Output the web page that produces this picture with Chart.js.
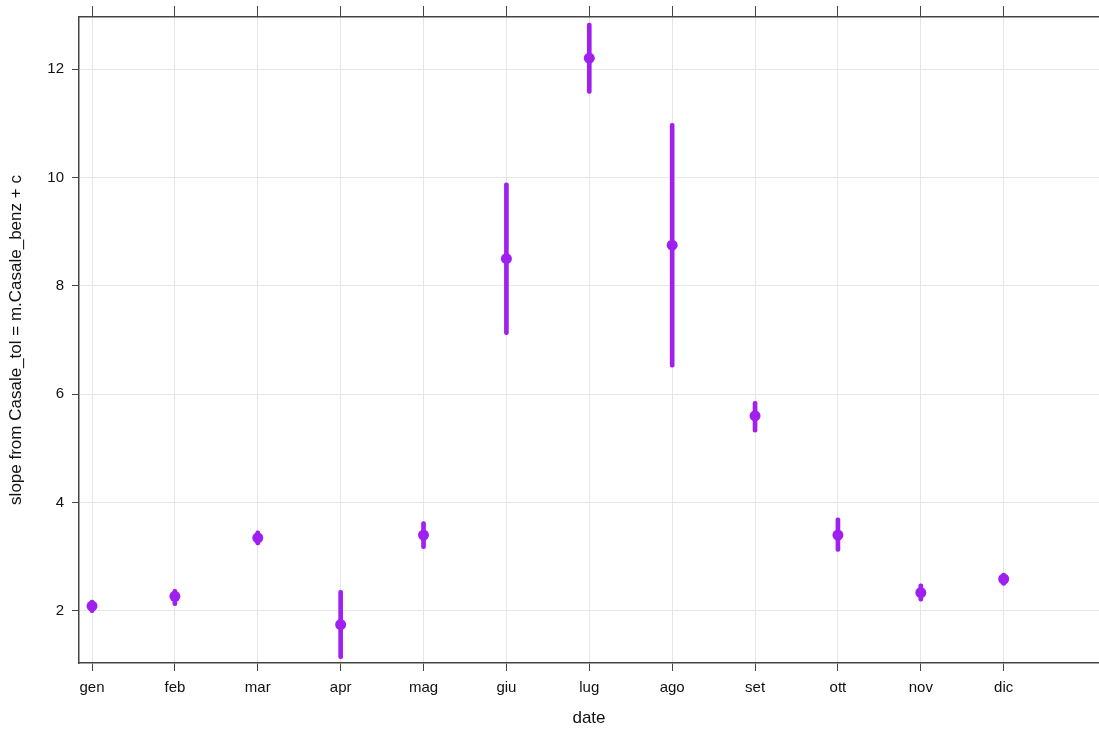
<!DOCTYPE html>
<html>
<head>
<meta charset="utf-8">
<script src="https://cdn.jsdelivr.net/npm/chart.js@4/dist/chart.umd.min.js"></script>
<style>
  html, body { margin: 0; padding: 0; background: #fff; }
  #wrap { width: 1099px; height: 729px; }
</style>
</head>
<body>
<div id="wrap"><canvas id="slopeChart"></canvas></div>
<script>
const months = ['gen', 'feb', 'mar', 'apr', 'mag', 'giu', 'lug', 'ago', 'set', 'ott', 'nov', 'dic'];
const slope = [2.09, 2.27, 3.35, 1.75, 3.4, 8.5, 12.2, 8.75, 5.6, 3.4, 2.34, 2.59];
const lower = [1.97, 2.1, 3.22, 1.12, 3.15, 7.1, 11.55, 6.5, 5.3, 3.1, 2.18, 2.47];
const upper = [2.2, 2.4, 3.48, 2.38, 3.65, 9.9, 12.85, 11.0, 5.87, 3.72, 2.5, 2.7];
const yTicks = [2, 4, 6, 8, 10, 12];

const purple = '#A020F0';
const axisColor = '#444';
const gridColor = '#e6e6e6';

const monthTicks = (scale) => {
  scale.ticks = months.map((m, i) => ({ value: i + 1 }));
};

const ctx = document.getElementById('slopeChart').getContext('2d');

new Chart(ctx, {
  data: {
    datasets: [
      {
        type: 'bar',
        data: months.map((m, i) => ({ x: i + 1, y: [lower[i], upper[i]] })),
        backgroundColor: purple,
        borderWidth: 0,
        borderRadius: 2,
        borderSkipped: false,
        barThickness: 4,
        xAxisID: 'x',
        yAxisID: 'y'
      },
      {
        type: 'scatter',
        data: months.map((m, i) => ({ x: i + 1, y: slope[i] })),
        backgroundColor: purple,
        borderColor: purple,
        pointRadius: 5.5,
        pointBorderWidth: 0,
        showLine: false,
        xAxisID: 'x',
        yAxisID: 'y'
      }
    ]
  },
  options: {
    responsive: true,
    maintainAspectRatio: false,
    animation: false,
    layout: { autoPadding: false, padding: 0 },
    plugins: {
      legend: { display: false },
      tooltip: { enabled: false }
    },
    scales: {
      x: {
        type: 'linear',
        position: 'bottom',
        offset: false,
        min: 0.843,
        max: 13.15,
        afterBuildTicks: monthTicks,
        afterFit: (scale) => { scale.height = 66; },
        grid: { offset: false, color: gridColor, tickColor: axisColor, tickLength: 8, drawTicks: true },
        border: { display: true, color: axisColor, width: 1.5 },
        ticks: {
          color: '#111',
          font: { family: 'Liberation Sans, Arial', size: 15 },
          padding: 8,
          maxRotation: 0,
          callback: (v) => months[Math.round(v) - 1]
        },
        title: {
          display: true,
          text: 'date',
          color: '#111',
          font: { family: 'Liberation Sans, Arial', size: 17 },
          padding: { top: 4, bottom: 0 }
        }
      },
      x2: {
        type: 'linear',
        position: 'top',
        offset: false,
        min: 0.843,
        max: 13.15,
        afterBuildTicks: monthTicks,
        afterFit: (scale) => { scale.height = 16; },
        grid: { offset: false, drawOnChartArea: false, tickColor: axisColor, tickLength: 11 },
        border: { display: true, color: axisColor, width: 1.5 },
        ticks: { display: false }
      },
      y: {
        type: 'linear',
        min: 1.04,
        max: 12.96,
        afterBuildTicks: (scale) => { scale.ticks = yTicks.map(v => ({ value: v })); },
        afterFit: (scale) => { scale.width = 79; },
        grid: { color: gridColor, tickColor: axisColor, tickLength: 7 },
        border: { display: true, color: axisColor, width: 1.5 },
        ticks: {
          color: '#111',
          font: { family: 'Liberation Sans, Arial', size: 15 },
          padding: 8
        },
        title: {
          display: true,
          text: 'slope from Casale_tol = m.Casale_benz + c',
          color: '#111',
          font: { family: 'Liberation Sans, Arial', size: 17 },
          padding: { top: 6, bottom: 4 }
        }
      }
    }
  }
});
</script>
</body>
</html>
